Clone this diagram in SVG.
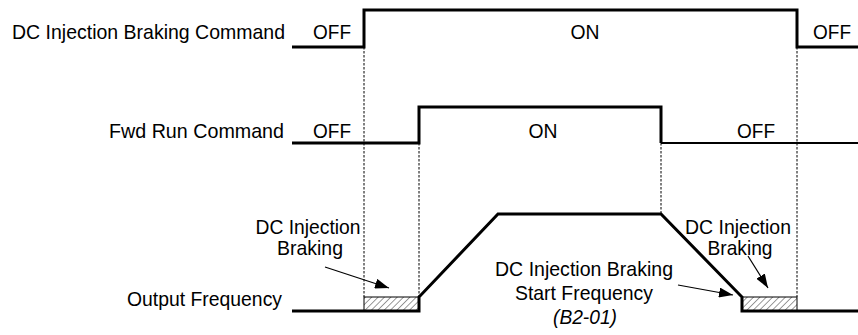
<svg xmlns="http://www.w3.org/2000/svg" width="858" height="335" viewBox="0 0 858 335">
<style>
text{font-family:"Liberation Sans",Arial,sans-serif;font-size:21px;fill:#000}
.lbl{text-anchor:end}
.mid{text-anchor:middle}
.sig{fill:none;stroke:#000;stroke-width:3;stroke-linejoin:miter}
.dash{fill:none;stroke:#000;stroke-width:1;stroke-dasharray:2.5,1.5}
.ptr{fill:none;stroke:#000;stroke-width:1.2}
.hatch{fill:url(#hp);stroke:#000;stroke-width:1}
</style>
<defs>
<pattern id="hp" patternUnits="userSpaceOnUse" width="4.5" height="4.5" patternTransform="rotate(45)">
<line x1="0" y1="0" x2="0" y2="4.5" stroke="#333" stroke-width="1"/>
</pattern>
<marker id="ah" markerUnits="userSpaceOnUse" markerWidth="14" markerHeight="10" refX="14" refY="5" orient="auto">
<path d="M0,0 L14,5 L0,10 z" fill="#000"/>
</marker>
</defs>
<g id="dc-command">
<text class="lbl" x="285" y="39" textLength="273" lengthAdjust="spacingAndGlyphs">DC Injection Braking Command</text>
<text class="mid" x="332" y="39" textLength="38" lengthAdjust="spacingAndGlyphs">OFF</text>
<text class="mid" x="585" y="39" textLength="29" lengthAdjust="spacingAndGlyphs">ON</text>
<text class="mid" x="832" y="39" textLength="38" lengthAdjust="spacingAndGlyphs">OFF</text>
<path class="sig" d="M292,47 H364 V10 H797 V47 H858"/>
</g>
<g id="fwd-run">
<text class="lbl" x="284" y="138" textLength="175" lengthAdjust="spacingAndGlyphs">Fwd Run Command</text>
<text class="mid" x="332" y="138" textLength="38" lengthAdjust="spacingAndGlyphs">OFF</text>
<text class="mid" x="543" y="138" textLength="29" lengthAdjust="spacingAndGlyphs">ON</text>
<text class="mid" x="756" y="138" textLength="38" lengthAdjust="spacingAndGlyphs">OFF</text>
<path class="sig" d="M292,143 H419 V107 H661 V143"/>
<path class="sig" style="stroke-width:2" d="M661,143 H858"/>
</g>
<g id="output-frequency">
<text class="lbl" x="282" y="306" textLength="155" lengthAdjust="spacingAndGlyphs">Output Frequency</text>
<rect class="hatch" x="364" y="297" width="55" height="14"/>
<rect class="hatch" x="742" y="297" width="55" height="14"/>
<path class="sig" d="M292,311 H419 V297 L498,214 H661 L742,297 V311 H858"/>
</g>
<g id="label-dc-left">
<text class="mid" x="308" y="234" textLength="105" lengthAdjust="spacingAndGlyphs">DC Injection</text>
<text class="mid" x="310" y="255" textLength="66" lengthAdjust="spacingAndGlyphs">Braking</text>
</g>
<g id="label-dc-right">
<text class="mid" x="738" y="234" textLength="106" lengthAdjust="spacingAndGlyphs">DC Injection</text>
<text class="mid" x="740" y="255" textLength="65" lengthAdjust="spacingAndGlyphs">Braking</text>
</g>
<g id="label-start-freq">
<text class="mid" x="584" y="276" textLength="178" lengthAdjust="spacingAndGlyphs">DC Injection Braking</text>
<text class="mid" x="584" y="300" textLength="138" lengthAdjust="spacingAndGlyphs">Start Frequency</text>
<text class="mid" x="585" y="324" font-style="italic" textLength="64" lengthAdjust="spacingAndGlyphs">(B2-01)</text>
</g>
<g id="connectors">
<path class="dash" d="M364,47 V297"/>
<path class="dash" d="M419,143 V297"/>
<path class="dash" d="M661,143 V214"/>
<path class="dash" d="M797,47 V297"/>
<path class="ptr" marker-end="url(#ah)" d="M325,267 L389,288"/>
<path class="ptr" marker-end="url(#ah)" d="M748,256 L768,288"/>
<path class="ptr" marker-end="url(#ah)" d="M678,285 L733,295"/>
</g>
</svg>
